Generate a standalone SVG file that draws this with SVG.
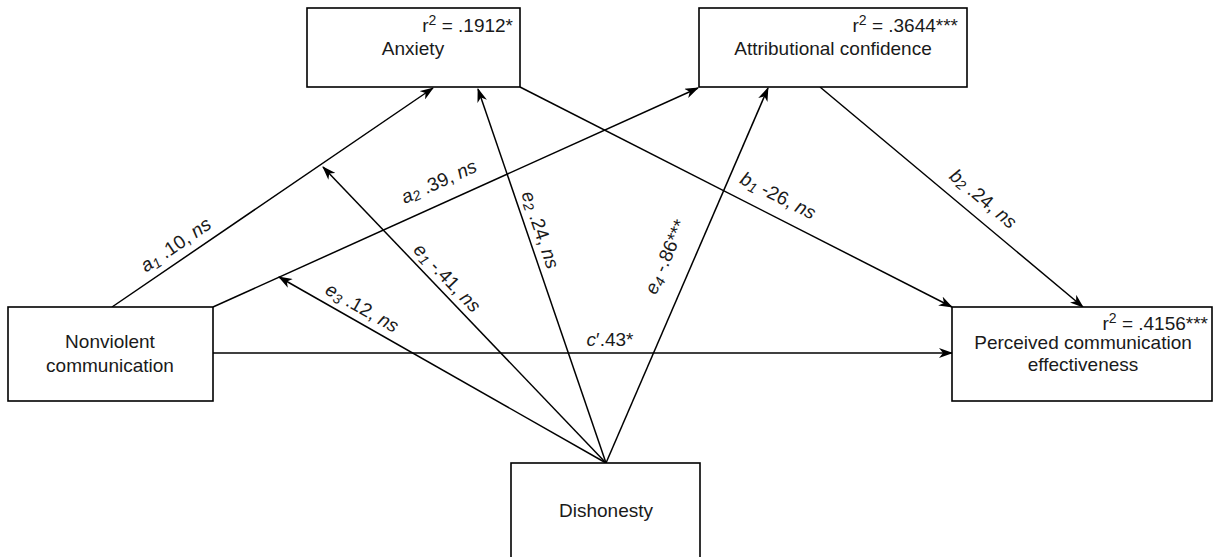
<svg xmlns="http://www.w3.org/2000/svg" width="1215" height="557" viewBox="0 0 1215 557">
<style>
.box{fill:#fff;stroke:#000;stroke-width:1.6}
.t{font-family:"Liberation Sans",Arial,sans-serif;font-size:19px;fill:#1a1a1a}
.m{text-anchor:middle}
.e{text-anchor:end}
.edge{stroke:#000;stroke-width:1.5;fill:none;marker-end:url(#arr)}
.i{font-style:italic}
.sub{font-size:14px}
.sup{font-size:14px}
</style>
<defs>
<marker id="arr" markerUnits="userSpaceOnUse" viewBox="0 0 14 10" markerWidth="14" markerHeight="10" refX="13" refY="5" orient="auto">
<path d="M0,0 L14,5 L0,10 L4,5 z" fill="#000"/>
</marker>
</defs>
<rect width="1215" height="557" fill="#fff"/>
<g id="connectors">
<path class="edge" d="M112,307 L433,88"/>
<path class="edge" d="M213,307 L698,88"/>
<path class="edge" d="M520,87 L952,307"/>
<path class="edge" d="M820,87 L1083,307"/>
<path class="edge" d="M213,353 L952,353"/>
<path class="edge" d="M606,463 L323,167"/>
<path class="edge" d="M606,463 L478,89"/>
<path class="edge" d="M606,463 L279,277"/>
<path class="edge" d="M606,463 L768,88"/>
</g>
<g id="edge-labels">
<text class="t m" transform="translate(176,245) rotate(-34.3)" y="6"><tspan class="i">a</tspan><tspan class="sub i" dy="3">1</tspan><tspan dy="-3"> .10, </tspan><tspan class="i">ns</tspan></text>
<text class="t m" transform="translate(439,182) rotate(-24.3)" y="6"><tspan class="i">a</tspan><tspan class="sub i" dy="2">2</tspan><tspan dy="-2"> .39, </tspan><tspan class="i">ns</tspan></text>
<text class="t m" transform="translate(447,278) rotate(46.3)" y="6"><tspan class="i">e</tspan><tspan class="sub i" dy="3">1</tspan><tspan dy="-3"> -.41, </tspan><tspan class="i">ns</tspan></text>
<text class="t m" transform="translate(540,230) rotate(71.1)" y="6"><tspan class="i">e</tspan><tspan class="sub i" dy="2">2</tspan><tspan dy="-2"> .24, </tspan><tspan class="i">ns</tspan></text>
<text class="t m" transform="translate(362,308) rotate(29.6)" y="6"><tspan class="i">e</tspan><tspan class="sub i" dy="3">3</tspan><tspan dy="-3"> .12, </tspan><tspan class="i">ns</tspan></text>
<text class="t m" transform="translate(666,257) rotate(-66.6)" y="6"><tspan class="i">e</tspan><tspan class="sub i" dy="3">4</tspan><tspan dy="-3"> -.86***</tspan></text>
<text class="t m" transform="translate(778,196) rotate(27)" y="6"><tspan class="i">b</tspan><tspan class="sub i" dy="3">1</tspan><tspan dy="-3"> -26, </tspan><tspan class="i">ns</tspan></text>
<text class="t m" transform="translate(983,199) rotate(39.9)" y="6"><tspan class="i">b</tspan><tspan class="sub i" dy="2">2</tspan><tspan dy="-2"> .24, </tspan><tspan class="i">ns</tspan></text>
<text class="t m" x="610" y="346"><tspan class="i">c</tspan>′.43*</text>
</g>
<g id="anxiety">
<rect class="box" x="307" y="8" width="213" height="79"/>
<text class="t e" x="513" y="32">r<tspan class="sup" dy="-7">2</tspan><tspan dy="7"> = .1912*</tspan></text>
<text class="t m" x="413" y="55">Anxiety</text>
</g>
<g id="attributional-confidence">
<rect class="box" x="699" y="8" width="268" height="79"/>
<text class="t e" x="958" y="32">r<tspan class="sup" dy="-7">2</tspan><tspan dy="7"> = .3644***</tspan></text>
<text class="t m" x="833" y="55">Attributional confidence</text>
</g>
<g id="nonviolent-communication">
<rect class="box" x="8" y="307" width="205" height="94"/>
<text class="t m" x="110" y="348">Nonviolent</text>
<text class="t m" x="110" y="372">communication</text>
</g>
<g id="perceived-communication-effectiveness">
<rect class="box" x="952" y="307" width="260" height="94"/>
<text class="t e" x="1208" y="330">r<tspan class="sup" dy="-7">2</tspan><tspan dy="7"> = .4156***</tspan></text>
<text class="t m" x="1083" y="349">Perceived communication</text>
<text class="t m" x="1083" y="371">effectiveness</text>
</g>
<g id="dishonesty">
<rect class="box" x="511" y="463" width="189" height="100"/>
<text class="t m" x="606" y="517">Dishonesty</text>
</g>
</svg>
